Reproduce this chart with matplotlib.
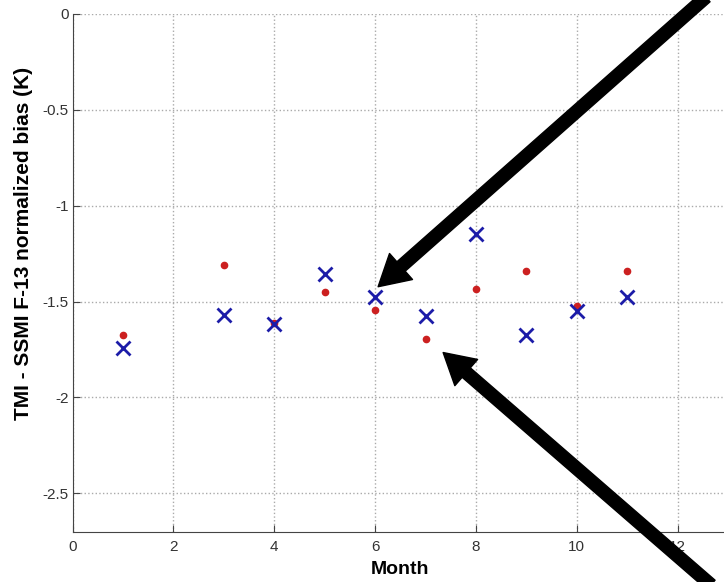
import numpy as np
import matplotlib
matplotlib.use('Agg')
import matplotlib.pyplot as plt

plt.rcParams['font.family'] = ['Liberation Sans', 'DejaVu Sans']

# months and the two bias series
months = [1, 3, 4, 5, 6, 7, 8, 9, 10, 11]
bias_dot = [-1.675, -1.308, -1.612, -1.452, -1.546, -1.694, -1.436, -1.340, -1.525, -1.343]
bias_x = [-1.743, -1.568, -1.616, -1.358, -1.476, -1.574, -1.150, -1.676, -1.551, -1.475]

xticks = [0, 2, 4, 6, 8, 10, 12]
yticks = [0, -0.5, -1, -1.5, -2, -2.5]
ytick_labels = ['0', '-0.5', '-1', '-1.5', '-2', '-2.5']

fig = plt.figure(figsize=(7.24, 5.82), dpi=100)
ax = fig.add_axes([0.1004, 0.0864, 0.905, 0.890])

ax.plot(months, bias_dot, 'o', color='#cc2020', markersize=4.5, zorder=3)
ax.plot(months, bias_x, 'x', color='#1c1ca8', markersize=10, markeredgewidth=2, zorder=4)

ax.set_xlim(0, 13)
ax.set_ylim(-2.7, 0)
ax.set_xticks(xticks)
ax.set_yticks(yticks)
ax.set_yticklabels(ytick_labels)
ax.grid(True, linestyle=':', color='#aaaaaa', linewidth=1)
ax.set_axisbelow(True)

for s in ['top', 'right']:
    ax.spines[s].set_visible(False)
for s in ['left', 'bottom']:
    ax.spines[s].set_color('#444444')
ax.tick_params(direction='in', length=5, color='#444444', labelsize=11, labelcolor='#333333')
ax.tick_params(axis='x', pad=6)
ax.tick_params(axis='y', pad=3)

ax.set_xlabel('Month', fontsize=14, fontweight='bold', labelpad=5)
ax.set_ylabel('TMI - SSMI F-13 normalized bias (K)', fontsize=15, fontweight='bold')
ax.yaxis.set_label_coords(-0.061, 0.557)

# the two callout arrows
arrow = dict(arrowstyle='simple,head_width=1.25,head_length=1.1,tail_width=0.45',
             color='black', mutation_scale=20, shrinkA=0, shrinkB=0)
ax.annotate('', xy=(months[4] + 0.06, bias_x[4] + 0.053), xycoords='data',
            xytext=(0.975, 1.005), textcoords='figure fraction',
            arrowprops=arrow, annotation_clip=False)
ax.annotate('', xy=(months[5] + 0.35, bias_dot[5] - 0.072), xycoords='data',
            xytext=(0.982, -0.005), textcoords='figure fraction',
            arrowprops=arrow, annotation_clip=False)

fig.savefig('out.png', dpi=100)
